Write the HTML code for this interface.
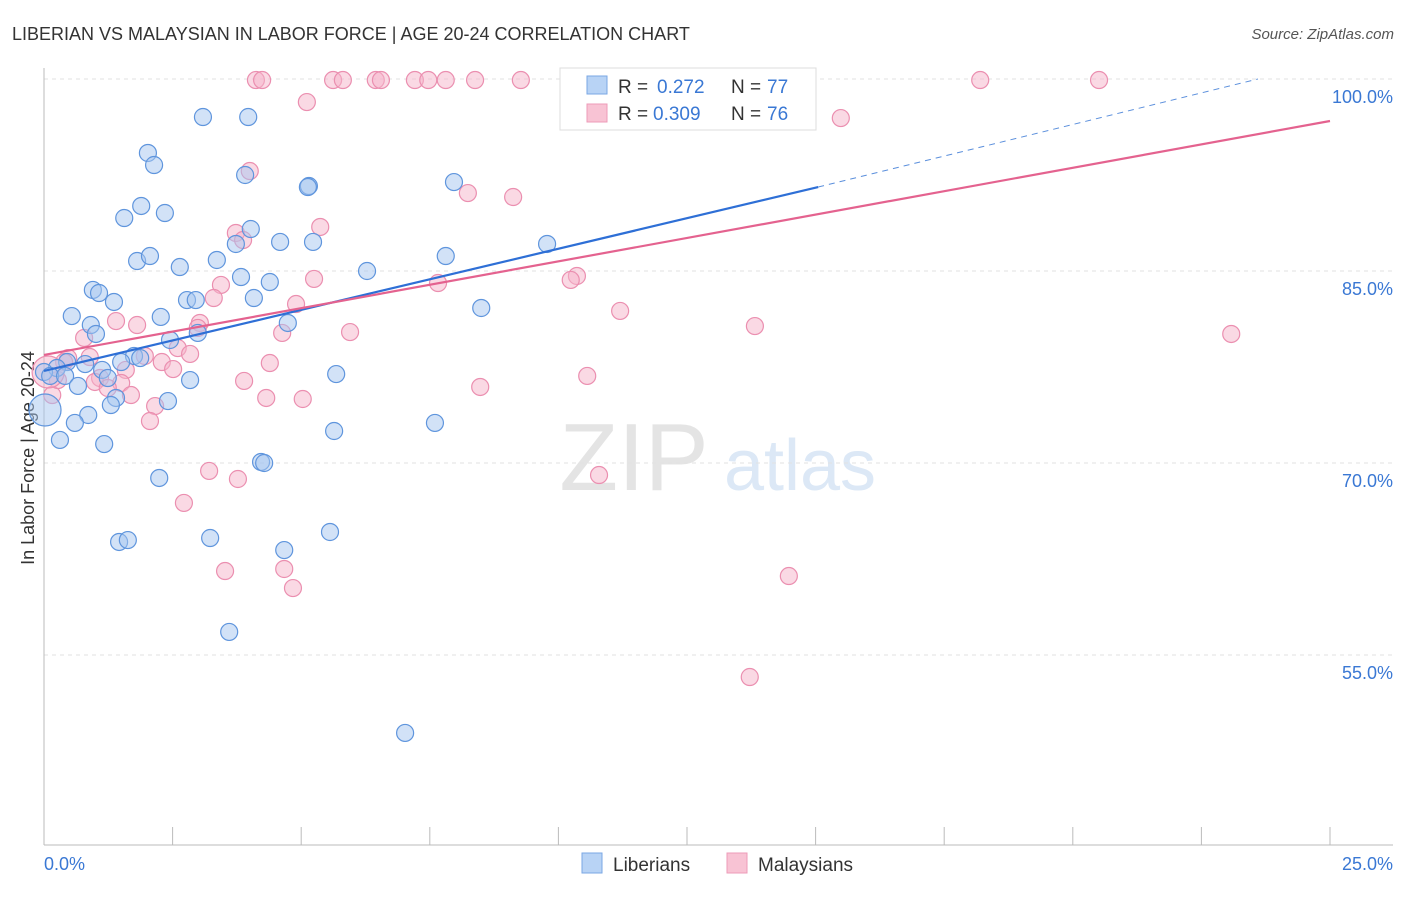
<!DOCTYPE html>
<html><head><meta charset="utf-8"><style>
body{margin:0;background:#fff;font-family:"Liberation Sans",sans-serif;}
svg text{font-family:"Liberation Sans",sans-serif;}
</style></head><body>
<svg width="1406" height="892" viewBox="0 0 1406 892" id="chart">
<text x="12" y="40" font-size="18" fill="#333">LIBERIAN VS MALAYSIAN IN LABOR FORCE | AGE 20-24 CORRELATION CHART</text>
<text x="1394" y="39" font-size="15" fill="#555" font-style="italic" text-anchor="end">Source: ZipAtlas.com</text>
<text transform="translate(34,458) rotate(-90)" font-size="18" fill="#333" text-anchor="middle">In Labor Force | Age 20-24</text>
<g><text x="634" y="490" font-size="96" fill="#e4e4e4" font-family="Liberation Serif" text-anchor="middle">ZIP</text><text x="800" y="490" font-size="72" fill="#dce8f6" text-anchor="middle">atlas</text></g>
<g id="grid"></g><g id="axes"></g><g id="marks"></g><g id="trends"></g>
<g>
<rect x="560" y="68" width="256" height="62" fill="#fff" stroke="#ddd"/>
<rect x="587" y="76" width="20" height="18" fill="#b8d3f5" stroke="#7aa7e4"/>
<text x="618" y="93" font-size="19" fill="#333">R = </text><text x="657" y="93" font-size="19" fill="#3a78d4">0.272</text>
<text x="731" y="93" font-size="19" fill="#333">N = </text><text x="767" y="93" font-size="19" fill="#3a78d4">77</text>
<rect x="587" y="104" width="20" height="18" fill="#f8c3d4" stroke="#ee9bb8"/>
<text x="618" y="120" font-size="19" fill="#333">R = </text><text x="653" y="120" font-size="19" fill="#3a78d4">0.309</text>
<text x="731" y="120" font-size="19" fill="#333">N = </text><text x="767" y="120" font-size="19" fill="#3a78d4">76</text>
</g>
<g>
<rect x="582" y="853" width="20" height="20" fill="#b8d3f5" stroke="#7aa7e4"/>
<text x="613" y="871" font-size="19" fill="#333">Liberians</text>
<rect x="727" y="853" width="20" height="20" fill="#f8c3d4" stroke="#ee9bb8"/>
<text x="758" y="871" font-size="19" fill="#333">Malaysians</text>
</g>
</svg>
<script>
const xTickVals=[0,2.5,5,7.5,10,12.5,15,17.5,20,22.5,25];
const yTickVals=[100,85,70,55];
const yTickLabels=["100.0%","85.0%","70.0%","55.0%"];
const xEndLabels=["0.0%","25.0%"];
const blueX=[3.09,3.97,2.02,2.14,3.91,5.15,5.13,7.97,1.56,1.89,2.35,4.02,3.73,4.59,5.23,9.78,1.81,2.06,2.64,3.36,3.83,4.39,6.28,7.81,0.95,1.07,1.36,0.54,2.78,2.95,4.08,2.27,0.91,1.01,2.99,2.45,4.74,8.5,1.75,1.87,1.5,0.45,0.8,0.25,0.0,0.12,0.41,1.13,1.24,0.66,2.84,5.68,1.4,1.3,2.41,0.86,0.6,0.31,1.17,5.64,7.6,2.24,4.22,4.28,5.56,3.23,1.46,1.63,4.67,3.6,7.02,10.81,13.26,0.02];
const blueY=[97.03,97.03,94.22,93.28,92.5,91.64,91.56,91.95,89.14,90.08,89.53,88.28,87.11,87.27,87.27,87.11,85.78,86.17,85.31,85.86,84.53,84.14,85.0,86.17,83.52,83.28,82.58,81.48,82.73,82.73,82.89,81.41,80.78,80.08,80.16,79.61,80.94,82.11,78.36,78.2,77.89,77.89,77.73,77.42,77.11,76.8,76.8,77.27,76.64,76.02,76.48,76.95,75.08,74.53,74.84,73.75,73.13,71.8,71.48,72.5,73.13,68.83,70.08,70.0,64.61,64.14,63.83,63.98,63.2,56.8,48.91,99.92,99.92,74.14];
const pinkX=[4.12,4.24,5.62,5.81,6.45,6.55,7.21,7.47,7.81,8.38,9.27,18.2,20.51,5.11,15.49,4.0,8.24,9.12,5.37,3.73,3.87,5.25,3.44,3.3,4.9,10.36,10.24,7.66,11.2,13.82,23.08,5.95,4.63,3.03,2.99,1.4,1.81,0.78,0.47,0.39,0.89,2.6,2.84,1.96,2.29,4.39,2.51,1.59,1.09,1.5,0.99,1.24,3.89,1.69,8.48,10.56,5.03,4.32,2.16,2.06,3.21,3.77,10.79,2.72,3.52,4.67,4.84,14.48,13.72,0.16,0.27,0.08];
const pinkY=[99.92,99.92,99.92,99.92,99.92,99.92,99.92,99.92,99.92,99.92,99.92,99.92,99.92,98.2,96.95,92.81,91.09,90.78,88.44,87.97,87.42,84.38,83.91,82.89,82.42,84.61,84.3,84.06,81.88,80.7,80.08,80.23,80.16,80.94,80.55,81.09,80.78,79.77,78.2,77.89,78.28,78.98,78.52,78.36,77.89,77.81,77.34,77.27,76.64,76.25,76.33,75.86,76.41,75.31,75.94,76.8,75.0,75.08,74.45,73.28,69.38,68.75,69.06,66.88,61.56,61.72,60.23,61.17,53.28,75.31,76.48,77.11];
const blueTrend=[[0,77.19],[15.05,91.56],[23.6,100]];
const pinkTrend=[[0,78.44],[25,96.72]];
const NS="http://www.w3.org/2000/svg";
const sx=v=>44+v*51.44;
const sy=v=>79+(100-v)*12.8;
function mk(t,a,p){const e=document.createElementNS(NS,t);for(const k in a)e.setAttribute(k,a[k]);p.appendChild(e);return e;}
const grid=document.getElementById('grid'),axes=document.getElementById('axes'),marks=document.getElementById('marks'),trends=document.getElementById('trends');
yTickVals.forEach((v,i)=>{
 const l=mk('line',{x1:44,x2:1393,y1:sy(v),y2:sy(v),stroke:'#e2e2e2','stroke-dasharray':'4,4'},grid);
 
 
 const t=mk('text',{x:1393,y:sy(v)+24,'font-size':18,fill:'#3a78d4','text-anchor':'end'},axes);
 t.textContent=yTickLabels[i];
 
 
});
const ya=mk('line',{x1:44,x2:44,y1:68,y2:845,stroke:'#bbb'},axes);


const xa=mk('line',{x1:44,x2:1393,y1:845,y2:845,stroke:'#bbb'},axes);


xTickVals.forEach(v=>{
 const t=mk('line',{x1:sx(v),x2:sx(v),y1:827,y2:845,stroke:'#bbb'},axes);
 
 
});
[[0,'start'],[25,'end']].forEach((p,i)=>{
 const t=mk('text',{x:i?1393:44,y:870,'font-size':18,fill:'#3a78d4','text-anchor':p[1]},axes);
 t.textContent=xEndLabels[i];
 
 
});
function dots(X,Y,fill,stroke,name){
 X.forEach((x,i)=>{
  const big=(i===X.length-1 && x<0.2);
  const c=mk('circle',{cx:sx(x),cy:sy(Y[i]),r:big?16:8.5,fill:fill,'fill-opacity':0.5,stroke:stroke,'stroke-width':1.2},marks);
  
  
 });
}
dots(pinkX,pinkY,'#f6b3c9','#eb8fb0','malaysian-point');
dots(blueX,blueY,'#a5c6ef','#5f95dd','liberian-point');
const bl=mk('line',{x1:sx(blueTrend[0][0]),y1:sy(blueTrend[0][1]),x2:sx(blueTrend[1][0]),y2:sy(blueTrend[1][1]),stroke:'#2e6fd6','stroke-width':2.2},trends);


const bd=mk('line',{x1:sx(blueTrend[1][0]),y1:sy(blueTrend[1][1]),x2:sx(blueTrend[2][0]),y2:sy(blueTrend[2][1]),stroke:'#5b8fdc','stroke-width':1,'stroke-dasharray':'6,5'},trends);


const pl=mk('line',{x1:sx(pinkTrend[0][0]),y1:sy(pinkTrend[0][1]),x2:sx(pinkTrend[1][0]),y2:sy(pinkTrend[1][1]),stroke:'#e4628f','stroke-width':2.2},trends);


</script>
</body></html>
